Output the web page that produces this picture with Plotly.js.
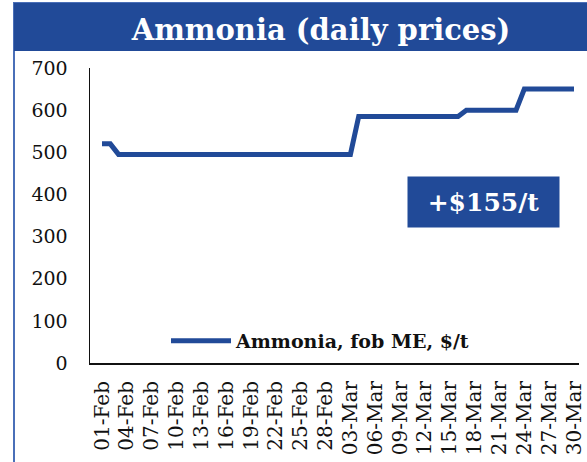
<!DOCTYPE html>
<html>
<head>
<meta charset="utf-8">
<script src="https://cdn.plot.ly/plotly-3.0.1.min.js"></script>
<style>
html,body{margin:0;padding:0;background:#fff;}
#chart{width:587px;height:462px;}
</style>
</head>
<body>
<div id="chart"></div>
<script>
// ---- Data ----
const dates = [
  "2022-02-01","2022-02-02","2022-02-03","2022-02-04","2022-02-05","2022-02-06","2022-02-07",
  "2022-02-08","2022-02-09","2022-02-10","2022-02-11","2022-02-12","2022-02-13","2022-02-14",
  "2022-02-15","2022-02-16","2022-02-17","2022-02-18","2022-02-19","2022-02-20","2022-02-21",
  "2022-02-22","2022-02-23","2022-02-24","2022-02-25","2022-02-26","2022-02-27","2022-02-28",
  "2022-03-01","2022-03-02","2022-03-03","2022-03-04","2022-03-05","2022-03-06","2022-03-07",
  "2022-03-08","2022-03-09","2022-03-10","2022-03-11","2022-03-12","2022-03-13","2022-03-14",
  "2022-03-15","2022-03-16","2022-03-17","2022-03-18","2022-03-19","2022-03-20","2022-03-21",
  "2022-03-22","2022-03-23","2022-03-24","2022-03-25","2022-03-26","2022-03-27","2022-03-28",
  "2022-03-29","2022-03-30"
];
const ammoniaPrices = [
  520,520,495,495,495,495,495,
  495,495,495,495,495,495,495,
  495,495,495,495,495,495,495,
  495,495,495,495,495,495,495,
  495,495,495,585,585,585,585,
  585,585,585,585,585,585,585,
  585,585,600,600,600,600,600,
  600,600,650,650,650,650,650,
  650,650
];
const tickDates = [
  "2022-02-01","2022-02-04","2022-02-07","2022-02-10","2022-02-13","2022-02-16","2022-02-19",
  "2022-02-22","2022-02-25","2022-02-28","2022-03-03","2022-03-06","2022-03-09","2022-03-12",
  "2022-03-15","2022-03-18","2022-03-21","2022-03-24","2022-03-27","2022-03-30"
];
const tickLabels = [
  "01-Feb","04-Feb","07-Feb","10-Feb","13-Feb","16-Feb","19-Feb","22-Feb","25-Feb","28-Feb",
  "03-Mar","06-Mar","09-Mar","12-Mar","15-Mar","18-Mar","21-Mar","24-Mar","27-Mar","30-Mar"
];
const yTicks = [0,100,200,300,400,500,600,700];
const seriesName = "Ammonia, fob ME, $/t";
const titleText = "Ammonia (daily prices)";
const changeLabel = "+$155/t";

// ---- Style ----
const BLUE = "#214A98";
const SERIF = "DejaVu Serif, serif";
const W = 587, H = 462;
const L = 90, R = 8, T = 68, B = 99;
const PW = W - L - R, PH = H - T - B;
const px = x => (x - L) / PW;
const py = y => (H - B - y) / PH;

const trace = {
  x: dates, y: ammoniaPrices, type: "scatter", mode: "lines",
  name: seriesName,
  line: {color: BLUE, width: 5, shape: "linear"},
  hoverinfo: "x+y"
};

const layout = {
  width: W, height: H,
  margin: {l: L, r: R, t: T, b: B, pad: 0},
  paper_bgcolor: "#fff", plot_bgcolor: "#fff",
  font: {family: SERIF, color: "#111"},
  title: {
    text: titleText,
    font: {family: SERIF, size: 29, color: "#fff", weight: "bold"},
    x: 321 / W, xref: "container", xanchor: "center",
    y: 1 - 30 / H, yref: "container", yanchor: "middle"
  },
  xaxis: {
    type: "date",
    range: ["2022-01-30 13:13", "2022-03-30 14:30"],
    tickvals: tickDates, ticktext: tickLabels,
    tickangle: -90,
    tickfont: {family: SERIF, size: 20, color: "#111"},
    showgrid: false, zeroline: false,
    showline: true, linecolor: "#111", linewidth: 2,
    ticks: "", ticklabelstandoff: 8, fixedrange: true
  },
  yaxis: {
    range: [0, 700],
    tickvals: yTicks,
    tickfont: {family: SERIF, size: 19, color: "#111"},
    showgrid: false, zeroline: false,
    showline: true, linecolor: "#111", linewidth: 1.5,
    ticks: "", ticklabelstandoff: 17, fixedrange: true
  },
  showlegend: true,
  legend: {
    x: px(166), y: py(341), xanchor: "left", yanchor: "middle",
    xref: "paper", yref: "paper",
    bgcolor: "rgba(0,0,0,0)",
    itemwidth: 60,
    font: {family: SERIF, size: 19, color: "#111", weight: "bold"}
  },
  shapes: [
    {type: "rect", xref: "paper", yref: "paper",
     x0: px(14), x1: px(600), y0: py(470), y1: py(3),
     line: {color: "#4A6FB8", width: 2}, fillcolor: "rgba(0,0,0,0)", layer: "below"},
    {type: "rect", xref: "paper", yref: "paper",
     x0: px(14), x1: px(600), y0: py(51), y1: py(3),
     line: {width: 0}, fillcolor: BLUE, layer: "below"}
  ],
  annotations: [
    {text: changeLabel, xref: "paper", yref: "paper",
     x: px(483.5), y: py(202), xanchor: "center", yanchor: "middle",
     showarrow: false, bgcolor: BLUE, borderpad: 0,
     width: 151, height: 50, align: "center", valign: "middle",
     font: {family: SERIF, size: 25, color: "#fff", weight: "bold"}}
  ]
};

Plotly.newPlot("chart", [trace], layout, {displayModeBar: false, staticPlot: true});
</script>
</body>
</html>
